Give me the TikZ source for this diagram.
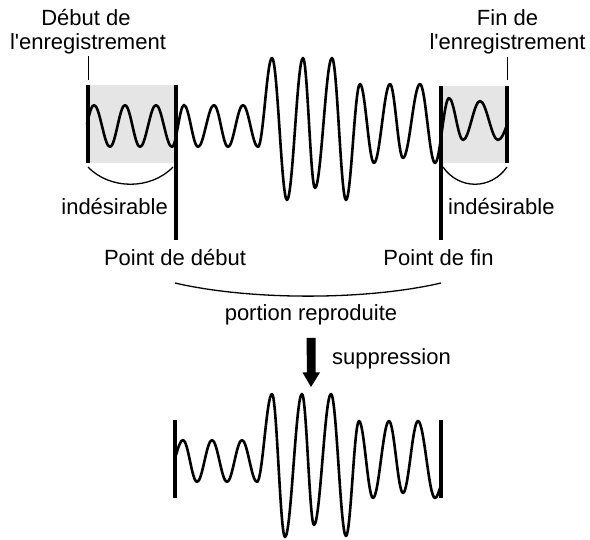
\documentclass[tikz,border=0pt]{standalone}
\usepackage{fontspec}
\newfontfamily\labelfont{Liberation Sans}
\definecolor{shade}{HTML}{E5E5E5}
\begin{document}
\begin{tikzpicture}[x=1pt,y=-1pt,
  lbl/.style={inner sep=0pt, font=\labelfont\fontsize{22}{26}\selectfont},
  wave/.style={line width=2.6pt, line join=round},
  bar/.style={line width=3.4pt},
  tickline/.style={line width=0.9pt},
  arcline/.style={line width=1.3pt},
  shadebox/.style={fill=shade, draw=none}]
\useasboundingbox (0,0) rectangle (590,540);

% shaded unwanted zones
\fill[shadebox] (88,85) rectangle (176,163);
\fill[shadebox] (441,86) rectangle (507,163);

% top wave
\draw[wave] (87,124) sin (94,105)
  cos (102,126) sin (110,147)
  cos (117.5,126) sin (125,105)
  cos (132.5,126) sin (140,147)
  cos (148,126) sin (156,105)
  cos (164,126) sin (172,147)
  cos (178,126) sin (184,105)
  cos (191,126) sin (198,147)
  cos (206,126) sin (214,105)
  cos (221,126) sin (228,147)
  cos (235.5,126) sin (243,105)
  cos (250.5,126) sin (258,147)
  cos (265,102.5) sin (272,58)
  cos (279.5,129) sin (287,200)
  cos (295,129) sin (303,58)
  cos (309,123) sin (315,188)
  cos (323.5,123) sin (332,58)
  cos (339,129) sin (346,200)
  cos (353,142) sin (360,84)
  cos (367,123.5) sin (374,163)
  cos (382,123.5) sin (390,84)
  cos (396.5,121) sin (403,158)
  cos (411.5,121) sin (420,84)
  cos (427.5,123.5) sin (435,163)
  cos (442,130.5) sin (449,98)
  cos (456,119) sin (463,140)
  cos (471.5,120.5) sin (480,101)
  cos (489,120.5) sin (498,140)
  cos (508,122);

% bottom wave
\draw[wave] (176,455) sin (183,440)
  cos (190,461) sin (197,482)
  cos (204.5,461) sin (212,440)
  cos (219.5,461) sin (227,482)
  cos (234.5,461) sin (242,440)
  cos (249.5,461) sin (257,482)
  cos (264.5,438) sin (272,394)
  cos (278.5,465.5) sin (285,537)
  cos (293.5,465.5) sin (302,394)
  cos (308,459.5) sin (314,525)
  cos (322.5,459.5) sin (331,394)
  cos (338.5,465) sin (346,536)
  cos (352.5,478.5) sin (359,421)
  cos (366,459.5) sin (373,498)
  cos (381,459.5) sin (389,421)
  cos (396,457) sin (403,493)
  cos (410.5,457) sin (418,421)
  cos (426.5,459.5) sin (435,498)
  cos (440,488);

% bar end points
\coordinate (recS1) at (88,85);   \coordinate (recS2) at (88,163);
\coordinate (begS1) at (176,85);  \coordinate (begS2) at (176,240);
\coordinate (endS1) at (441,86);  \coordinate (endS2) at (441,240);
\coordinate (recE1) at (507,86);  \coordinate (recE2) at (507,163);
\coordinate (cutL1) at (175,420); \coordinate (cutL2) at (175,498);
\coordinate (cutR1) at (441,420); \coordinate (cutR2) at (441,498);

\draw[bar] (recS1) -- (recS2);
\draw[bar] (begS1) -- (begS2);
\draw[bar] (endS1) -- (endS2);
\draw[bar] (recE1) -- (recE2);
\draw[bar] (cutL1) -- (cutL2);
\draw[bar] (cutR1) -- (cutR2);

% ticks under the top labels
\coordinate (tkL1) at (88,56);  \coordinate (tkL2) at (88,80);
\coordinate (tkR1) at (507,57); \coordinate (tkR2) at (507,80);
\draw[tickline] (tkL1) -- (tkL2);
\draw[tickline] (tkR1) -- (tkR2);

% arcs
\coordinate (arL1) at (88,167);  \coordinate (arL2) at (173,167);
\coordinate (arR1) at (443,167); \coordinate (arR2) at (507,167);
\coordinate (arP1) at (175,283); \coordinate (arP2) at (441,283);
\draw[arcline] (arL1) .. controls (110,190) and (151,190) .. (arL2);
\draw[arcline] (arR1) .. controls (459,190) and (491,190) .. (arR2);
\draw[arcline] (arP1) .. controls (250,300.5) and (366,300.5) .. (arP2);

% labels
\node[lbl, anchor=base] (deb1) at (86,26) {Début de};
\node[lbl, anchor=base] (deb2) at (88,50) {l'enregistrement};
\node[lbl, anchor=base] (fin1) at (507.5,26) {Fin de};
\node[lbl, anchor=base] (fin2) at (507.5,50) {l'enregistrement};
\node[lbl, anchor=base east] (indL) at (168,215) {indésirable};
\node[lbl, anchor=base west] (indR) at (448,215) {indésirable};
\node[lbl, anchor=base] (pdeb) at (175,266) {Point de début};
\node[lbl, anchor=base] (pfin) at (438.5,266) {Point de fin};
\node[lbl, anchor=base] (porr) at (311,321) {portion reproduite};
\node[lbl, anchor=base west] (supp) at (332,365) {suppression};

% deletion arrow
\coordinate (arw) at (311,338);
\fill (arw) ++(-4.5,0) -- ++(9,0) -- ++(0,34.5) -- ++(4.5,0)
  -- (311,387) -- ++(-8.5,-14.5) -- ++(4.5,0) -- cycle;
\end{tikzpicture}
\end{document}
